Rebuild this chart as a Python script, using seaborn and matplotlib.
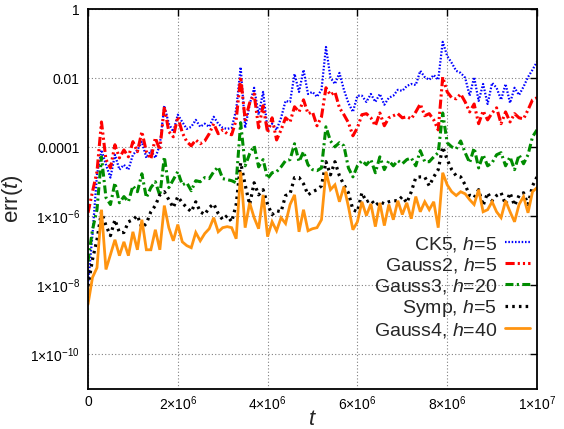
import numpy as np
import pandas as pd
import matplotlib
matplotlib.use("Agg")
import matplotlib.pyplot as plt
import seaborn as sns

# Sampling times (101 outputs over 1e7 time units)
t = np.linspace(0, 1e7, 101)

# log10 of the error for each integrator
ck5_log10 = [
    -7.98, -6.53, -4.80, -4.08, -4.51, -4.88, -4.22, -4.65, -4.51, -4.65,
    -4.22, -4.08, -3.84, -4.31, -4.10, -4.31, -3.93, -2.80, -3.32, -3.55,
    -3.06, -3.27, -3.47, -3.41, -3.21, -3.41, -3.32, -3.41, -3.12, -3.32,
    -3.44, -3.47, -3.44, -2.92, -1.68, -3.44, -2.77, -2.28, -3.06, -2.40,
    -3.50, -3.32, -3.50, -3.15, -2.66, -2.69, -1.88, -2.40, -1.76, -2.46,
    -2.40, -2.54, -2.34, -1.10, -1.99, -2.17, -1.85, -2.34, -2.72, -2.98,
    -2.51, -2.51, -2.69, -2.46, -2.69, -2.46, -2.77, -2.57, -2.51, -2.34,
    -2.37, -2.23, -2.17, -2.20, -1.79, -1.97, -2.05, -1.91, -2.05, -0.95,
    -1.36, -1.56, -1.79, -1.85, -1.99, -2.51, -1.97, -2.66, -2.17, -2.75,
    -2.14, -2.28, -2.63, -2.17, -2.72, -2.28, -2.49, -2.25, -1.97, -1.76,
    -1.53,
]

gauss2_log10 = [
    -5.90, -5.29, -4.71, -3.27, -4.36, -4.60, -3.93, -4.31, -4.08, -4.28,
    -3.84, -4.13, -3.55, -4.13, -4.34, -3.73, -4.08, -2.83, -3.55, -3.70,
    -3.12, -3.58, -3.84, -3.96, -3.79, -3.90, -3.82, -3.61, -3.32, -3.61,
    -3.50, -3.61, -3.64, -3.21, -1.97, -3.21, -2.72, -2.46, -3.44, -2.80,
    -3.58, -3.15, -3.79, -3.50, -3.15, -3.27, -2.83, -2.98, -2.63, -3.03,
    -2.98, -3.38, -3.12, -2.28, -2.49, -2.40, -2.86, -3.06, -3.29, -3.67,
    -3.44, -3.06, -3.03, -3.15, -3.38, -3.01, -3.38, -3.15, -3.09, -3.03,
    -3.15, -3.12, -3.18, -2.98, -2.75, -3.09, -3.03, -3.21, -3.50, -1.97,
    -2.40, -2.57, -2.60, -2.46, -2.69, -2.98, -2.75, -3.32, -2.95, -3.21,
    -3.01, -2.86, -3.32, -2.98, -3.27, -3.03, -3.15, -3.18, -2.92, -2.63,
    -2.57,
]

gauss3_log10 = [
    -7.31, -6.39, -5.81, -4.28, -5.46, -5.66, -5.03, -5.61, -5.43, -5.58,
    -5.12, -5.29, -4.77, -5.46, -5.17, -5.00, -5.40, -4.28, -5.17, -4.94,
    -4.71, -5.09, -5.03, -5.26, -4.97, -5.00, -4.88, -4.91, -4.71, -4.57,
    -4.91, -4.94, -4.97, -5.03, -3.29, -4.54, -4.19, -3.96, -4.57, -4.36,
    -4.91, -4.74, -4.71, -4.57, -4.39, -4.36, -3.90, -4.42, -4.13, -4.51,
    -4.65, -4.68, -4.60, -3.41, -3.82, -3.99, -3.87, -3.96, -4.60, -4.86,
    -4.54, -4.39, -4.51, -4.36, -4.74, -4.28, -4.65, -4.39, -4.54, -4.39,
    -4.48, -4.36, -4.31, -4.54, -4.10, -4.42, -4.42, -4.28, -4.16, -3.01,
    -3.87, -3.99, -4.05, -3.82, -4.16, -4.45, -4.02, -4.60, -4.22, -4.54,
    -4.45, -4.22, -4.16, -4.54, -4.28, -4.65, -4.22, -4.48, -4.22, -3.70,
    -3.50,
]

symp_log10 = [
    -8.03, -7.25, -6.68, -5.87, -6.27, -6.56, -6.10, -6.47, -6.47, -6.16,
    -6.10, -5.98, -6.33, -6.21, -5.87, -5.69, -5.38, -5.29, -5.52, -5.75,
    -5.43, -5.61, -5.75, -5.87, -5.58, -5.87, -5.95, -5.75, -5.64, -5.92,
    -6.10, -5.98, -6.16, -5.66, -4.45, -5.09, -5.66, -5.03, -5.38, -5.23,
    -5.66, -5.95, -5.84, -5.87, -5.40, -5.35, -4.88, -4.88, -5.06, -5.38,
    -5.29, -5.23, -5.12, -4.42, -4.80, -4.42, -4.83, -5.09, -5.32, -5.81,
    -5.87, -5.32, -5.58, -5.52, -5.69, -5.58, -5.64, -5.58, -5.55, -5.55,
    -5.43, -5.61, -5.29, -4.88, -4.86, -4.86, -5.12, -4.86, -4.65, -3.99,
    -4.36, -4.65, -4.83, -4.86, -5.09, -5.40, -5.46, -5.23, -5.69, -5.32,
    -5.55, -5.40, -5.32, -5.66, -5.32, -5.69, -5.40, -5.32, -5.66, -5.12,
    -4.86,
]

gauss4_log10 = [
    -8.55, -7.77, -7.49, -5.81, -7.54, -7.11, -6.68, -7.14, -6.74, -7.14,
    -6.45, -6.97, -6.10, -6.97, -6.97, -6.39, -6.97, -5.69, -6.33, -6.71,
    -6.24, -6.74, -6.85, -6.91, -6.47, -6.71, -6.50, -6.36, -6.04, -6.45,
    -6.33, -6.30, -6.33, -6.65, -4.71, -6.33, -5.61, -6.04, -6.36, -5.38,
    -6.59, -6.16, -6.42, -6.04, -6.21, -5.66, -5.38, -6.45, -5.81, -6.42,
    -6.36, -6.33, -6.10, -4.71, -5.23, -5.09, -5.58, -5.14, -5.72, -6.39,
    -6.16, -5.58, -5.98, -5.64, -6.30, -5.61, -6.27, -5.66, -6.10, -5.55,
    -5.95, -5.61, -6.07, -5.43, -5.87, -5.58, -5.81, -5.58, -6.33, -4.74,
    -5.09, -5.29, -5.40, -5.29, -5.35, -5.52, -5.66, -5.23, -5.87, -5.81,
    -5.58, -5.87, -6.04, -5.55, -5.87, -6.16, -5.66, -5.43, -5.90, -5.29,
    -5.17,
]

labels = ["CK5, $h$=5", "Gauss2, $h$=5", "Gauss3, $h$=20", "Symp, $h$=5", "Gauss4, $h$=40"]
series = [ck5_log10, gauss2_log10, gauss3_log10, symp_log10, gauss4_log10]

x_ticks = [0, 2e6, 4e6, 6e6, 8e6, 1e7]
x_tick_labels = ["0", r"2$\times$10$^{6}$", r"4$\times$10$^{6}$", r"6$\times$10$^{6}$",
                 r"8$\times$10$^{6}$", r"1$\times$10$^{7}$"]
y_ticks = [1e-10, 1e-8, 1e-6, 1e-4, 1e-2, 1]
y_tick_labels = [r"1$\times$10$^{-10}$", r"1$\times$10$^{-8}$", r"1$\times$10$^{-6}$",
                 "0.0001", "0.01", "1"]

# Line appearance per integrator
styles = [
    dict(color="#0000ff", lw=1.6, linestyle=(0, (0.7, 0.8))),
    dict(color="#ff0000", lw=2.2, linestyle=(0, (3.0, 1.0, 0.7, 1.0, 0.7, 1.0))),
    dict(color="#008c00", lw=2.2, linestyle=(0, (2.6, 1.1, 0.7, 1.1))),
    dict(color="#000000", lw=2.3, linestyle=(0, (0.8, 1.3))),
    dict(color="#ff9410", lw=2.0, linestyle="-"),
]

sns.set_style("white")
plt.rcParams["font.family"] = ["Liberation Sans", "DejaVu Sans"]
plt.rcParams["mathtext.fontset"] = "custom"
plt.rcParams["mathtext.rm"] = "Liberation Sans"
plt.rcParams["mathtext.it"] = "Liberation Sans:italic"

frames = []
for name, vals in zip(labels, series):
    frames.append(pd.DataFrame({"t": t, "err": 10.0 ** np.asarray(vals), "method": name}))
df = pd.concat(frames, ignore_index=True)

fig = plt.figure(figsize=(5.64, 4.29), dpi=100)
ax = fig.add_axes([88 / 564, 1 - 389 / 429, (537 - 88) / 564, (389 - 9) / 429])

for name, st in zip(labels, styles):
    sub = df[df["method"] == name]
    sns.lineplot(data=sub, x="t", y="err", ax=ax, estimator=None, label=name,
                 solid_joinstyle="miter", **st)

ax.set_yscale("log")
ax.set_xlim(0, 1e7)
ax.set_ylim(1e-11, 1)
ax.set_xticks(x_ticks)
ax.set_xticklabels(x_tick_labels)
ax.set_yticks(y_ticks)
ax.set_yticklabels(y_tick_labels)
ax.minorticks_off()
ax.tick_params(axis="both", which="major", direction="in", length=5, width=1,
               top=True, right=True, labelsize=10, colors="black")
ax.tick_params(axis="x", pad=4)
ax.tick_params(axis="y", pad=6)
ax.grid(True, which="major", linestyle=(0, (1, 2)), color="#808080", lw=0.8)
for sp in ax.spines.values():
    sp.set_visible(True)
    sp.set_color("black")
    sp.set_linewidth(1.3)

ax.set_xlabel("$t$", fontsize=16, labelpad=-3)
ax.set_ylabel("err($t$)", fontsize=16, labelpad=4)

leg = ax.legend(loc="center right", bbox_to_anchor=(0.985, 0.268), frameon=False,
                markerfirst=False, fontsize=14, handlelength=1.3, handletextpad=0.4,
                labelspacing=0.1, borderpad=0, borderaxespad=0)

fig.savefig("out.png", dpi=100)
